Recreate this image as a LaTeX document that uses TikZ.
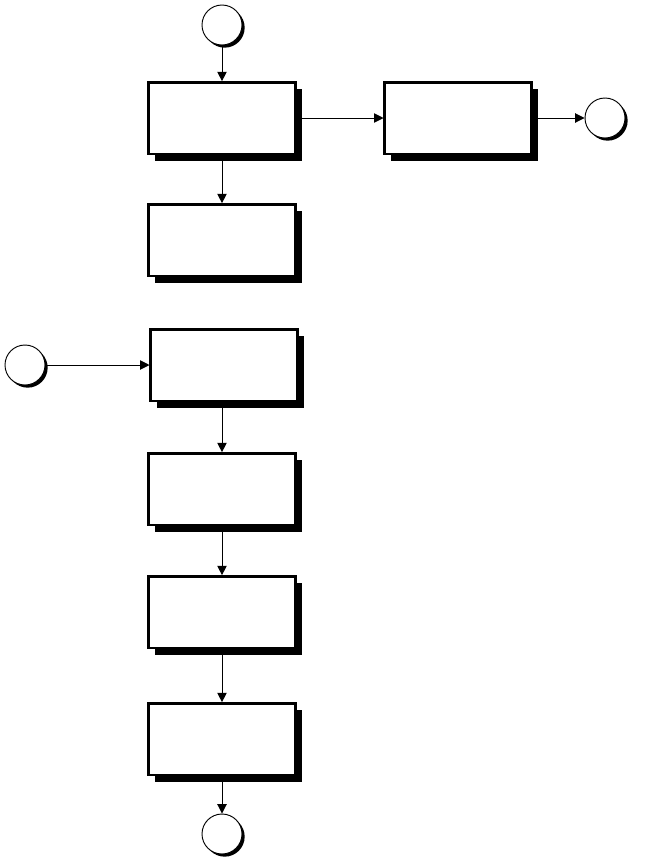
\documentclass[tikz,border=0pt]{standalone}
\usetikzlibrary{arrows.meta,positioning,shadows}

\begin{document}
\begin{tikzpicture}[x=0.03cm,y=-0.03cm,
  stepbox/.style={rectangle,draw,line width=2pt,fill=white,minimum width=4.4cm,minimum height=2.14cm,inner sep=0pt,
    drop shadow={shadow xshift=0.2cm,shadow yshift=-0.21cm,fill=black,opacity=1}},
  term/.style={circle,draw,line width=0.8pt,fill=white,minimum size=1.2cm,inner sep=0pt,
    drop shadow={shadow xshift=0.08cm,shadow yshift=-0.08cm,fill=black,opacity=1}},
  flow/.style={-{Triangle[length=2.8mm,width=2.8mm]},line width=0.8pt}]
  \useasboundingbox (0,0) rectangle (648,860);
  % upper branch
  \node[term] (start) at (222,25) {};
  \node[stepbox] (s1) at (222,118) {};
  \node[stepbox] (s2) at (458,118) {};
  \node[term] (out) at (605,118) {};
  \node[stepbox] (s3) at (222,240) {};
  \draw[flow] (start) -- (s1);
  \draw[flow] (s1) -- (s2);
  \draw[flow] (s2) -- (out);
  \draw[flow] (s1) -- (s3);
  % lower branch
  \node[term] (in) at (25,365) {};
  \node[stepbox] (s4) at (224,365) {};
  \node[stepbox] (s5) at (222,489) {};
  \node[stepbox] (s6) at (222,612) {};
  \node[stepbox] (s7) at (222,739) {};
  \node[term] (end) at (222,834) {};
  \draw[flow] (in) -- (s4);
  \draw[flow] (s4.south -| s5) -- (s5);
  \draw[flow] (s5) -- (s6);
  \draw[flow] (s6) -- (s7);
  \draw[flow] (s7) -- (end);
\end{tikzpicture}
\end{document}
